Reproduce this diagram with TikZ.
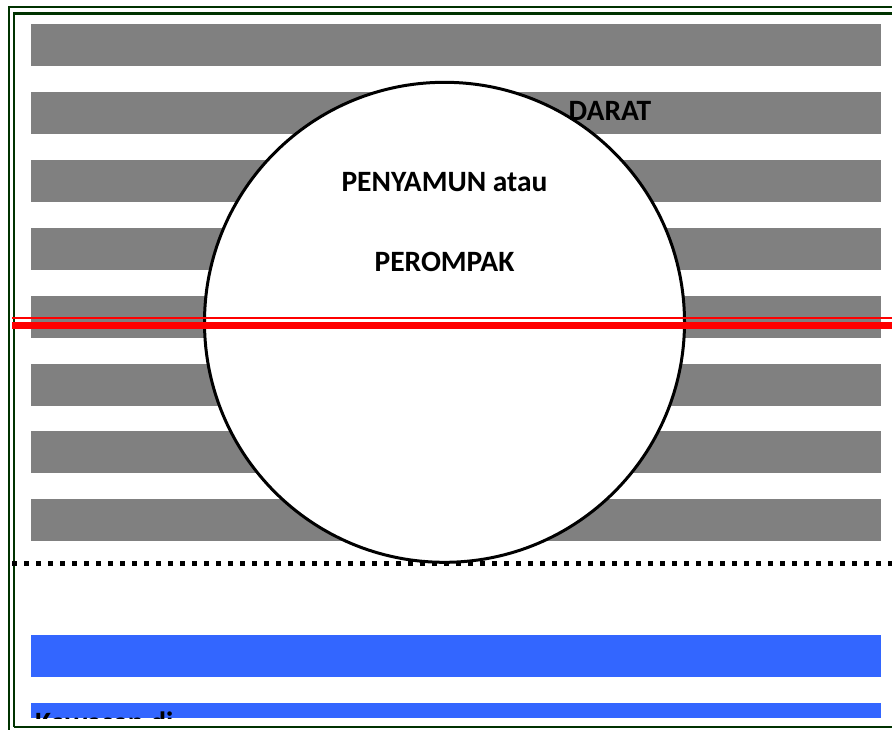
\documentclass[tikz,border=0pt]{standalone}
\usepackage{fontspec}
\setmainfont{Carlito}
\definecolor{framegreen}{RGB}{0,51,0}
\definecolor{bargray}{RGB}{128,128,128}
\definecolor{barblue}{RGB}{51,102,255}
\definecolor{redline}{RGB}{255,0,0}
\begin{document}
\begin{tikzpicture}[x=1pt,y=-1pt,
  graybar/.style={fill=bargray,draw=none},
  bluebar/.style={fill=barblue,draw=none},
  lbl/.style={font=\fontsize{29.5}{34}\selectfont\bfseries,inner sep=0pt,anchor=base},
  framestyle/.style={draw=framegreen,line width=2.3pt}]
\useasboundingbox (0,0) rectangle (892,729);
\fill[white] (0,0) rectangle (892,729);
% frame (cut off at right and bottom)
\draw[framestyle] (9,740) -- (9,7) -- (900,7);
\draw[framestyle] (14.3,727.2) -- (14.3,13.5) -- (900,13.5);
\draw[framestyle] (14.3,727.2) -- (900,727.2);
% gray bars
\foreach \t in {24,92,160,228,296,364,431,499}
  \fill[graybar] (31,\t) rectangle (881,\t+42);
% blue bars
\fill[bluebar] (31,635) rectangle (881,677);
\fill[bluebar] (31,703) rectangle (881,718);
% circle
\node[circle,draw=black,line width=3pt,fill=white,minimum size=480pt,inner sep=0pt] (circ) at (444.5,322.3) {};
% red lines
\coordinate (rl1) at (12,317.8);
\coordinate (rr1) at (892,317.8);
\coordinate (rl2) at (12,325.4);
\coordinate (rr2) at (892,325.4);
\draw[redline,line width=2.3pt] (rl1) -- (rr1);
\draw[redline,line width=7.3pt] (rl2) -- (rr2);
% dotted line
\coordinate (dl) at (12,563.5);
\coordinate (dr) at (900,563.5);
\draw[black,line width=5pt,dash pattern=on 5pt off 7pt] (dl) -- (dr);
% texts
\node[lbl] (darat) at (610,120) {DARAT};
\node[lbl] (peny) at (444.5,191) {PENYAMUN atau};
\node[lbl] (perom) at (444.5,271) {PEROMPAK};
\begin{scope}
\clip (31,703) rectangle (881,718);
\node[lbl,anchor=base west] (kaw) at (35,732) {Kawasan di};
\end{scope}
\end{tikzpicture}
\end{document}
